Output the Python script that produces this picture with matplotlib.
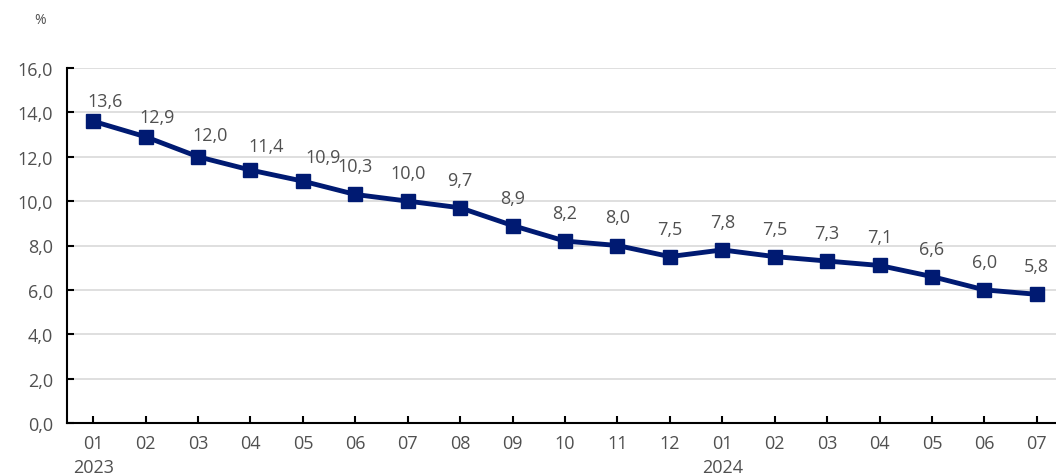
import matplotlib.pyplot as plt

months = ['01', '02', '03', '04', '05', '06', '07', '08', '09', '10', '11', '12',
          '01', '02', '03', '04', '05', '06', '07']
years = {0: '2023', 12: '2024'}
values = [13.6, 12.9, 12.0, 11.4, 10.9, 10.3, 10.0, 9.7, 8.9, 8.2, 8.0, 7.5,
          7.8, 7.5, 7.3, 7.1, 6.6, 6.0, 5.8]

# label offsets in pixels (Excel nudged the first few to the right)
label_dx = [12, 11, 12, 16, 20] + [0] * 14
label_dy = [20, 20, 22, 24, 24] + [28] * 14

text_col = '#505050'
line_col = '#001a72'

plt.rcParams['font.family'] = ['Open Sans', 'DejaVu Sans']

fig = plt.figure(figsize=(10.56, 4.77), dpi=100)
ax = fig.add_axes([67 / 1056, 1 - 424 / 477, (1063 - 67) / 1056, (424 - 69) / 477])

x = list(range(len(values)))
ax.plot(x, values, color=line_col, linewidth=3.5, marker='s', markersize=9.5,
        zorder=3, clip_on=False)

for i, v in enumerate(values):
    ax.annotate(f'{v:.1f}'.replace('.', ','), (i, v),
                xytext=(label_dx[i], label_dy[i]), textcoords='offset pixels',
                ha='center', va='center', fontsize=13, color=text_col)

ax.set_xlim(-0.5, len(values) - 0.5)
ax.set_ylim(0, 16)
yt = [i * 2 for i in range(9)]
ax.set_yticks(yt)
ax.set_yticklabels([f'{t:.1f}'.replace('.', ',') for t in yt])
ax.set_xticks(x)
ax.set_xticklabels([m + ('\n' + years[i] if i in years else '') for i, m in enumerate(months)],
                   linespacing=1.45)

ax.grid(axis='y', color='#d9d9d9', linewidth=1.2)
ax.set_axisbelow(True)
for s in ['top', 'right']:
    ax.spines[s].set_visible(False)
for s in ['left', 'bottom']:
    ax.spines[s].set_color('black')
    ax.spines[s].set_linewidth(1.5)
ax.tick_params(axis='both', direction='in', length=5, width=1.5, colors='black',
               labelcolor=text_col, labelsize=13)
ax.tick_params(axis='x', pad=8)
ax.tick_params(axis='y', pad=10)

fig.text(40 / 1056, 1 - 20 / 477, '%', ha='center', va='center', fontsize=10, color=text_col)

fig.savefig('out.png', dpi=100)
